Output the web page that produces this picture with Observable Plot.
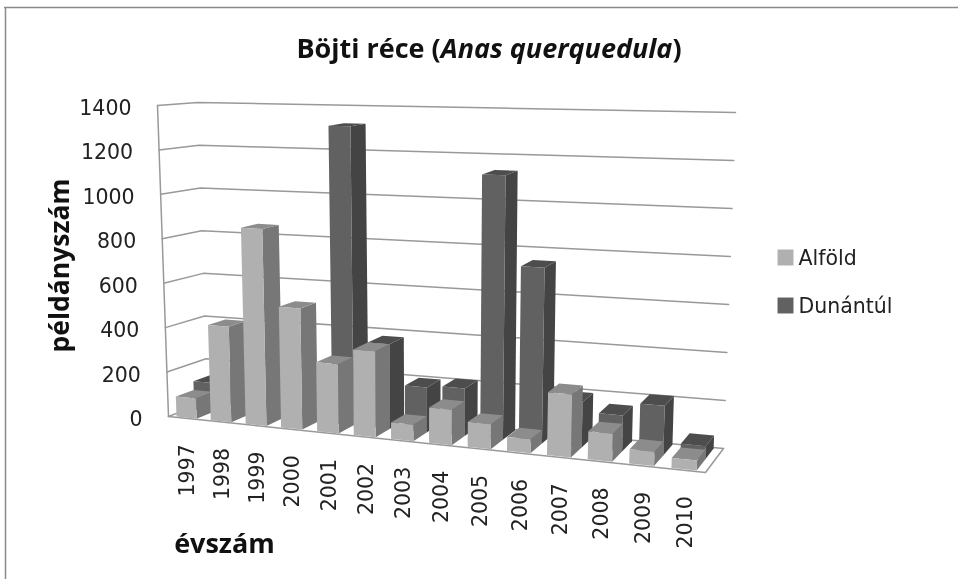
<!DOCTYPE html>
<html><head><meta charset="utf-8">
<script src="https://cdn.jsdelivr.net/npm/d3@7"></script>
<script src="https://cdn.jsdelivr.net/npm/@observablehq/plot@0.6"></script>
<style>
html,body{margin:0;padding:0;background:#fff}
#wrap{position:relative;width:958px;height:579px;overflow:hidden}
#wrap svg{position:absolute;left:0;top:0;filter:blur(0.4px)}
#title{position:absolute;left:0;width:978px;top:29px;text-align:center;font:bold 27px "Open Sans",sans-serif;color:#111;white-space:nowrap;filter:blur(0.3px)}
</style></head><body>
<div id="wrap"><div id="title">Böjti réce (<i>Anas querquedula</i>)</div></div>
<script>
const years = [1997,1998,1999,2000,2001,2002,2003,2004,2005,2006,2007,2008,2009,2010];
const alfold = [90,425,868,530,300,370,70,150,105,58,260,115,58,40];
const dunantul = [130,0,0,0,1320,370,195,205,1130,745,190,150,205,55];
const yTicks = [0,200,400,600,800,1000,1200,1400];
const seriesNames = ["Alföld","Dunántúl"];
const faceColors = {Alföld:["#b0b0b0","#777777","#8c8c8c"],Dunántúl:["#616161","#444444","#4d4d4d"]};

// pseudo-3D box: [u across, v depth, w height]
const corner = {
  f0L:[168,416], f0R:[705,472], b0L:[207,401], b0R:[723,448],
  f1L:[157,105], f1R:[718,122], b1L:[197,102], b1R:[735,112]
};
const persp = t => t/(t+1.13*(1-t));
const lerp = (a,b,t)=>[a[0]+(b[0]-a[0])*t,a[1]+(b[1]-a[1])*t];
const wScale = d3.scaleLinear([0,1400],[0,1]);
function proj(u,v,val){
  const t = persp(u/years.length), w = wScale(val);
  const f0 = lerp(corner.f0L,corner.f0R,t), f1 = lerp(corner.f1L,corner.f1R,t);
  const b0 = lerp(corner.b0L,corner.b0R,t), b1 = lerp(corner.b1L,corner.b1R,t);
  return lerp(lerp(f0,b0,v),lerp(f1,b1,v),w);
}
const faces = [];
let fid = 0;
function face(pts,fill){ fid++; for(const p of pts) faces.push({id:fid,x:p[0],y:p[1],fill}); }
const barFrom = 0.19, barTo = 0.78, barDepth = 0.46;
function bar(i,v0,val,c){
  if(!val) return;
  const a=i+barFrom,b=i+barTo,v1=v0+barDepth;
  face([proj(b,v0,0),proj(b,v1,0),proj(b,v1,val),proj(b,v0,val)],c[1]);
  face([proj(a,v0,val),proj(b,v0,val),proj(b,v1,val),proj(a,v1,val)],c[2]);
  face([proj(a,v0,0),proj(b,v0,0),proj(b,v0,val),proj(a,v0,val)],c[0]);
}
dunantul.forEach((d,i)=>bar(i,0.5,d,faceColors["Dunántúl"]));
alfold.forEach((d,i)=>bar(i,0.04,d,faceColors["Alföld"]));

const n = years.length;
const wallLines = [];
let lid = 0;
function wline(pts){ lid++; for(const p of pts) wallLines.push({id:lid,x:p[0],y:p[1]}); }
for(const t of yTicks) wline([proj(0,0,t),proj(0,1,t),proj(n,1,t)]);
wline([proj(0,0,0),proj(0,0,1400)]);
wline([proj(0,0,0),proj(n,0,0),proj(n,1,0)]);

const yLabels = yTicks.map(t=>{const p=proj(0,0,t);return {x:p[0]-26,y:p[1]+3,t:String(t)};});
const xLabels = years.map((yr,i)=>{const p=proj(i+0.5,0,0);return {x:p[0]+2,y:p[1]+26,t:String(yr)};});
const legend = seriesNames.map((s,i)=>({s,x:785,y:[257,305][i],fill:faceColors[s][0]}));
const font = '"Open Sans",sans-serif';
const tickFont = '"DejaVu Sans",sans-serif';

const chart = Plot.plot({
  width:958,height:579,margin:0,
  x:{domain:[0,958],range:[0,958],axis:null},
  y:{domain:[0,579],range:[0,579],axis:null},
  color:{type:"identity"},
  style:{background:"transparent",fontFamily:font},
  marks:[
    Plot.ruleY([7],{x1:4,x2:958,stroke:"#8a8a8a",strokeWidth:1.5}),
    Plot.ruleX([5],{y1:7,y2:579,stroke:"#8a8a8a",strokeWidth:1.5}),
    Plot.line(wallLines,{x:"x",y:"y",z:"id",stroke:"#999",strokeWidth:1.5,curve:"linear"}),
    Plot.line(faces,{x:"x",y:"y",z:"id",fill:"fill",stroke:"none",curve:"linear"}),
    Plot.text(yLabels,{x:"x",y:"y",text:"t",textAnchor:"end",fontSize:20.5,fontFamily:tickFont,fill:"#222"}),
    Plot.text(xLabels,{x:"x",y:"y",text:"t",textAnchor:"end",rotate:-90,fontSize:20.5,fontFamily:tickFont,fill:"#222"}),
    Plot.text(["példányszám"],{x:60,y:265,rotate:-90,fontSize:26.5,fontWeight:"bold",fill:"#111"}),
    Plot.text(["évszám"],{x:224,y:544,fontSize:27,fontWeight:"bold",fill:"#111"}),
    Plot.dot(legend,{x:"x",y:"y",symbol:"square",r:9,fill:"fill",stroke:"none"}),
    Plot.text(legend,{x:798,y:d=>d.y+1,text:"s",textAnchor:"start",fontSize:20.5,fontFamily:tickFont,fill:"#222"})
  ]
});
document.getElementById("wrap").prepend(chart);
</script>
</body></html>
